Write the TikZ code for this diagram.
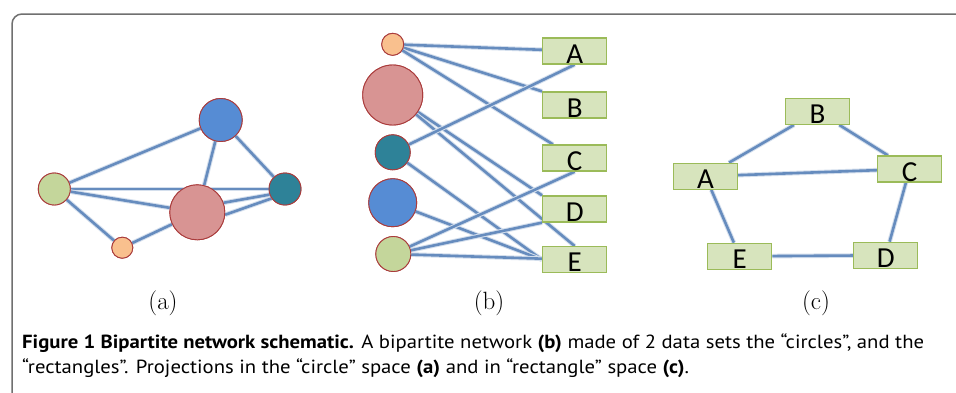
\documentclass[tikz,border=0pt]{standalone}
\usepackage{fontspec}
\newfontfamily\boxfont{Carlito}
\newfontfamily\capfont[FakeStretch=1.09]{PT Sans}
\definecolor{edgeblue}{RGB}{102,140,190}
\definecolor{cblue}{RGB}{86,140,212}
\definecolor{cgreen}{RGB}{196,214,155}
\definecolor{cteal}{RGB}{46,130,152}
\definecolor{cpink}{RGB}{216,148,147}
\definecolor{corange}{RGB}{249,192,142}
\definecolor{cborder}{RGB}{170,60,60}
\definecolor{rfill}{RGB}{215,228,189}
\definecolor{rborder}{RGB}{155,187,89}
\definecolor{framegray}{RGB}{112,112,112}
\tikzset{
  circ/.style={circle, draw=cborder, line width=0.9pt, inner sep=0pt},
  edge/.style={draw=edgeblue, line width=2.6pt,
    preaction={draw=edgeblue!28, line width=4.6pt}},
  rbox/.style={rectangle, draw=rborder, fill=rfill, line width=1.3pt,
    minimum width=64pt, minimum height=26pt, inner sep=0pt,
    font=\boxfont\fontsize{29}{29}\selectfont, text height=24pt, text depth=0pt},
  sublabel/.style={font=\fontsize{25}{28}\selectfont},
  caption/.style={anchor=base west, inner sep=0pt,
    font=\capfont\fontsize{19}{22}\selectfont},
}
\begin{document}
\begin{tikzpicture}[x=1pt,y=-1pt]
\useasboundingbox (0,0) rectangle (956,392);
\fill[white] (0,0) rectangle (956,392);

% outer frame
\draw[framegray, line width=1.5pt, rounded corners=10pt] (970,14) -- (12,14) -- (12,400);

% ---------- (a) circle projection ----------
\node[circ, fill=cblue,   minimum size=43pt] (ab) at (220.7,120) {};
\node[circ, fill=cgreen,  minimum size=32pt] (ag) at (54.3,189) {};
\node[circ, fill=cteal,   minimum size=32pt] (at) at (285,189) {};
\node[circ, fill=cpink,   minimum size=55pt] (ap) at (197.3,212.3) {};
\node[circ, fill=corange, minimum size=21pt] (ao) at (122.3,247.7) {};
\path[edge] (ag) -- (ab);
\path[edge] (ag.east) -- (at.west);
\path[edge] (ag) -- (ap);
\path[edge] (ag) -- (ao);
\path[edge] (ao) -- (ap);
\path[edge] (ab) -- (ap);
\path[edge] (ab) -- (at);
\path[edge] (at.200) -- (ap.20);
\path[edge] (at.215) -- (ap.-5);
% redraw circles above the edges
\node[circ, fill=cblue,   minimum size=43pt] at (ab) {};
\node[circ, fill=cteal,   minimum size=32pt] at (at) {};
\node[circ, fill=cpink,   minimum size=55pt] at (ap) {};
\node[circ, fill=cgreen,  minimum size=32pt] at (ag) {};
\node[circ, fill=corange, minimum size=21pt] at (ao) {};

% ---------- (b) bipartite network ----------
\node[circ, fill=corange, minimum size=22pt] (bo) at (392.7,44.3) {};
\node[circ, fill=cpink,   minimum size=60pt] (bp) at (392.7,95) {};
\node[circ, fill=cteal,   minimum size=35pt] (bt) at (392.7,152.3) {};
\node[circ, fill=cblue,   minimum size=48pt] (bb) at (392.7,202.7) {};
\node[circ, fill=cgreen,  minimum size=35pt] (bg) at (393.3,254) {};
\node[rbox] (bA) at (574.7,51)    {A};
\node[rbox] (bB) at (574.7,105)   {B};
\node[rbox] (bC) at (574.7,158)   {C};
\node[rbox] (bD) at (574.7,209)   {D};
\node[rbox] (bE) at (574.7,259.7) {E};
\path[edge] (bo) -- (bA);
\path[edge] (bo) -- (bB.north west);
\path[edge] (bo) -- (bC);
\path[edge] (bp) -- (bD.north west);
\path[edge] (bp) -- (bE.north);
\path[edge] (bt) -- (bA.south);
\path[edge] (bt) -- (bE.west);
\path[edge] (bb) -- (bE.west);
\path[edge] (bg) -- (bC.south);
\path[edge] (bg) -- (bD.south west);
\path[edge] (bg) -- (bE);
% redraw nodes above the edges
\foreach \n/\c/\s in {bo/corange/22, bp/cpink/60, bt/cteal/35, bb/cblue/48, bg/cgreen/35}
  \node[circ, fill=\c, minimum size=\s pt] at (\n) {};
\node[rbox] at (bA) {A};
\node[rbox] at (bB) {B};
\node[rbox] at (bC) {C};
\node[rbox] at (bD) {D};
\node[rbox] at (bE) {E};

% ---------- (c) rectangle projection ----------
\node[rbox] (cB) at (817.5,111.3) {B};
\node[rbox] (cA) at (705.5,176.3) {A};
\node[rbox] (cC) at (909.7,169)   {C};
\node[rbox] (cE) at (739.7,256.3) {E};
\node[rbox] (cD) at (885.8,255.3) {D};
\path[edge] (cA) -- (cB);
\path[edge] (cB) -- (cC);
\path[edge] (cA) -- (cC);
\path[edge] (cA) -- (cE);
\path[edge] (cE) -- (cD);
\path[edge] (cD) -- (cC);
\node[rbox] at (cB) {B};
\node[rbox] at (cA) {A};
\node[rbox] at (cC) {C};
\node[rbox] at (cE) {E};
\node[rbox] at (cD) {D};

% sub-figure labels
\node[sublabel] (la) at (163,303.5) {(a)};
\node[sublabel] (lb) at (489,303.5) {(b)};
\node[sublabel] (lc) at (816,303.5) {(c)};

% caption
\node[caption] (cap1) at (22,348) {\textbf{Figure 1 Bipartite network schematic.} A bipartite network \textbf{(b)} made of 2 data sets the “circles”, and the};
\node[caption] (cap2) at (22,373) {“rectangles”. Projections in the “circle” space \textbf{(a)} and in “rectangle” space \textbf{(c)}.};
\end{tikzpicture}
\end{document}
